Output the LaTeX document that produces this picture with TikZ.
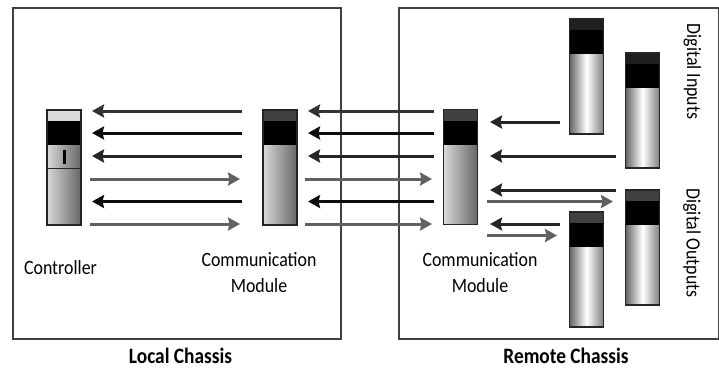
\documentclass[tikz,border=0pt]{standalone}
\usepackage{fontspec}
\setmainfont[FakeStretch=0.88]{Carlito}
\usepackage{tikz}
\usetikzlibrary{arrows.meta}

\tikzset{
	chassis/.style={draw=black!75, line width=1.4bp},
	caption/.style={font=\fontsize{20.3bp}{25.5bp}\selectfont, align=center, inner sep=0pt},
	heading/.style={font=\fontsize{22bp}{24bp}\selectfont\bfseries, inner sep=0pt},
	module/.style={draw=black!85, line width=1.2bp, inner sep=0pt, minimum width=34bp, minimum height=115bp,
		path picture={
			\fill[#1] (path picture bounding box.north west) rectangle ([yshift=-11bp]path picture bounding box.north east);
			\fill[black] ([yshift=-11bp]path picture bounding box.north west) rectangle ([yshift=-35bp]path picture bounding box.north east);
		}},
	comm/.style={module=#1, left color=black!15, right color=black!60},
	io/.style={module=#1, left color=black!60, right color=black!50, middle color=white},
	ledmark/.style={fill=black, inner sep=0pt, minimum width=3bp, minimum height=14bp},
	pull/.style={draw=black!#1, line width=3bp, -{Stealth[length=12bp,width=13bp,inset=1.5bp]}},
	push/.style={draw=black!62, line width=3bp, -{Stealth[length=12bp,width=13bp,inset=1.5bp]}},
}

\begin{document}
\begin{tikzpicture}[x=1bp,y=-1bp]
	\useasboundingbox (0,0) rectangle (719,369);

	\node[chassis, minimum width=328bp, minimum height=331bp, inner sep=0pt] (local) at (177,173.5) {};
	\node[chassis, minimum width=320bp, minimum height=331bp, inner sep=0pt] (remote) at (559,173.5) {};

	\node[comm=black!15] (ctrl) at (64,167.5) {};
	\node[ledmark] (led) at (64.5,157) {};
	\node[comm=black!75] (cm1) at (280,167.5) {};
	\node[comm=black!75] (cm2) at (460.5,167) {};
	\node[io=black!88] (in1) at (586.5,76.5) {};
	\node[io=black!88] (in2) at (642.5,110.5) {};
	\node[io=black!75] (out1) at (642.5,247.5) {};
	\node[io=black!75] (out2) at (586.5,269.5) {};
	\draw[draw=black!85, line width=1bp] (ctrl.west |- 0,168) -- (ctrl.east |- 0,168);

	\node[caption] (ctrltext) at (60.5,268) {Controller};
	\node[caption] (cm1text) at (259,272.5) {Communication\\Module};
	\node[caption] (cm2text) at (480,272.5) {Communication\\Module};
	\node[caption, rotate=-90] (intext) at (692.5,71.5) {Digital Inputs};
	\node[caption, rotate=-90] (outtext) at (692,243) {Digital Outputs};
	\node[heading] (localtext) at (180.5,356) {Local Chassis};
	\node[heading] (remotetext) at (566,356) {Remote Chassis};

	\coordinate (c1) at (92,111);
	\coordinate (c2) at (92,133);
	\coordinate (c3) at (92,156);
	\coordinate (c4) at (90,179);
	\coordinate (c5) at (92,201.5);
	\coordinate (c6) at (90,224);
	\coordinate (a1) at (242,111);
	\coordinate (a2) at (242,133);
	\coordinate (a3) at (242,156);
	\coordinate (a4) at (240,179);
	\coordinate (a5) at (242,201.5);
	\coordinate (a6) at (240,224);
	\coordinate (b1) at (308,111);
	\coordinate (b2) at (308,133);
	\coordinate (b3) at (308,156);
	\coordinate (b4) at (305,179);
	\coordinate (b5) at (308,201.5);
	\coordinate (b6) at (305,224);
	\coordinate (d1) at (434,111);
	\coordinate (d2) at (434,133);
	\coordinate (d3) at (434,156);
	\coordinate (d4) at (432,179);
	\coordinate (d5) at (434,201.5);
	\coordinate (d6) at (432,224);
	\coordinate (e1) at (490,122);
	\coordinate (f1) at (560,122);
	\coordinate (e2) at (490,156);
	\coordinate (f2) at (616,156);
	\coordinate (e3) at (490,190);
	\coordinate (f3) at (616,190);
	\coordinate (e4) at (487,201.5);
	\coordinate (f4) at (613,201.5);
	\coordinate (e5) at (490,224);
	\coordinate (f5) at (560,224);
	\coordinate (e6) at (487,235.5);
	\coordinate (f6) at (557,235.5);

	\draw [pull=80] (a1) -- (c1);
	\draw [pull=95] (a2) -- (c2);
	\draw [pull=85] (a3) -- (c3);
	\draw [push] (c4) -- (a4);
	\draw [pull=95] (a5) -- (c5);
	\draw [push] (c6) -- (a6);
	\draw [pull=80] (d1) -- (b1);
	\draw [pull=95] (d2) -- (b2);
	\draw [pull=85] (d3) -- (b3);
	\draw [push] (b4) -- (d4);
	\draw [pull=95] (d5) -- (b5);
	\draw [push] (b6) -- (d6);
	\draw [pull=85] (f1) -- (e1);
	\draw [pull=85] (f2) -- (e2);
	\draw [pull=85] (f3) -- (e3);
	\draw [push] (e4) -- (f4);
	\draw [pull=85] (f5) -- (e5);
	\draw [push] (e6) -- (f6);
\end{tikzpicture}
\end{document}
